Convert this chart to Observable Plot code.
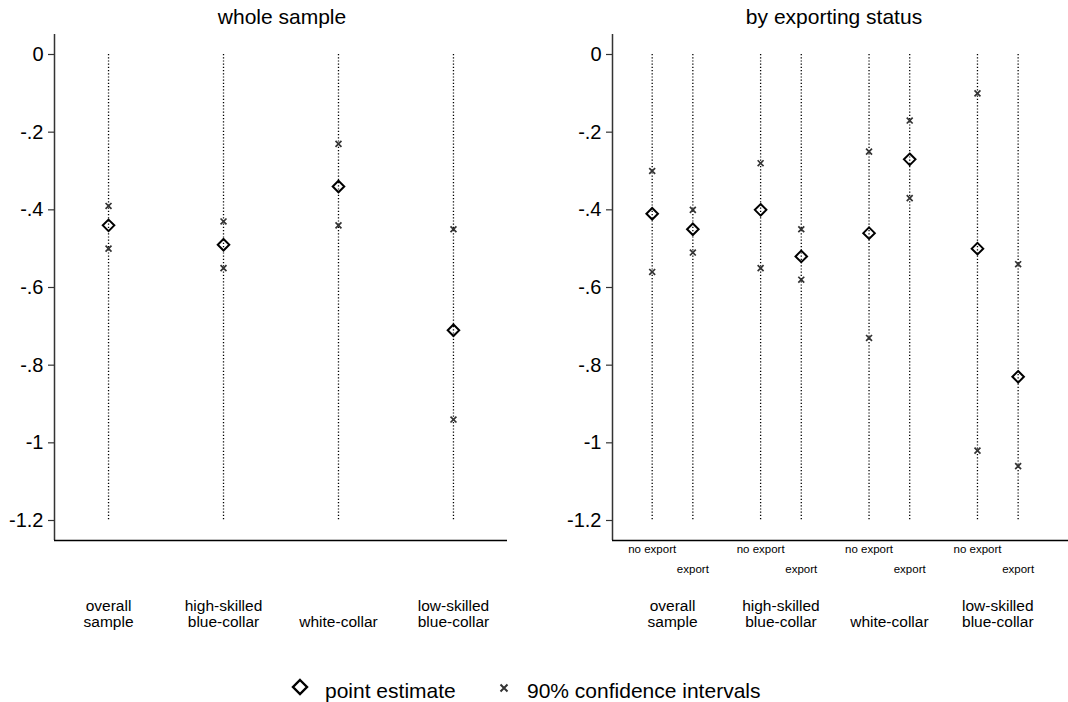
<!DOCTYPE html>
<html>
<head>
<meta charset="utf-8">
<script src="https://cdn.jsdelivr.net/npm/d3@7"></script>
<script src="https://cdn.jsdelivr.net/npm/@observablehq/plot@0.6"></script>
<style>
  html, body { margin: 0; padding: 0; background: #fff; }
  #wrap { position: relative; width: 1068px; height: 702px; background: #fff; overflow: hidden;
          font-family: 'Liberation Sans', Arial, Helvetica, sans-serif; color: #000; }
  .panel { position: absolute; top: 0; }
  .title { position: absolute; top: 6px; font-size: 21px; line-height: 21px; white-space: nowrap; transform: translateX(-50%); }
  .leg { position: absolute; top: 680px; font-size: 21px; line-height: 21px; white-space: nowrap; }
  .legsym { position: absolute; }
</style>
</head>
<body>
<div id="wrap">
  <div class="panel" id="left" style="left:0px"></div>
  <div class="panel" id="right" style="left:530px"></div>
  <div class="title" style="left:282px">whole sample</div>
  <div class="title" style="left:834px">by exporting status</div>
  <svg class="legsym" style="left:290px;top:677px" width="20" height="20"><path d="M10,3L17,10L10,17L3,10Z" fill="none" stroke="#000" stroke-width="2.4"/></svg>
  <div class="leg" style="left:325px">point estimate</div>
  <svg class="legsym" style="left:497px;top:681px" width="14" height="14"><path d="M3.5,3.5L10.5,10.5M10.5,3.5L3.5,10.5" stroke="#333" stroke-width="2"/></svg>
  <div class="leg" style="left:527px">90% confidence intervals</div>
</div>
<script>
// ---- data ----
const groups = ["overall\nsample", "high-skilled\nblue-collar", "white-collar", "low-skilled\nblue-collar"];
const statuses = ["no export", "export"];

// whole sample
const wholeEst = [-0.44, -0.49, -0.34, -0.71];
const wholeHi  = [-0.39, -0.43, -0.23, -0.45];
const wholeLo  = [-0.50, -0.55, -0.44, -0.94];

// by exporting status: non-exporters
const noExpEst = [-0.41, -0.40, -0.46, -0.50];
const noExpHi  = [-0.30, -0.28, -0.25, -0.10];
const noExpLo  = [-0.56, -0.55, -0.73, -1.02];

// by exporting status: exporters
const expEst = [-0.45, -0.52, -0.27, -0.83];
const expHi  = [-0.40, -0.45, -0.17, -0.54];
const expLo  = [-0.51, -0.58, -0.37, -1.06];

const yTicks = [0, -0.2, -0.4, -0.6, -0.8, -1, -1.2];

// ---- chart ----
const FONT = "'Liberation Sans', Arial, Helvetica, sans-serif";
const yDomain = [-1.2515, 0.0515];
const lineTop = 0, lineBottom = -1.2;
const fmt = d => d3.format("~g")(d).replace("\u2212", "-").replace(/^(-?)0\./, "$1.");

function yAxisMark() {
  return Plot.axisY({ticks: yTicks, tickFormat: fmt, tickSize: 6, tickPadding: 5, fontSize: 20, stroke: "#333", strokeWidth: 1.2});
}
const ruleStyle = {stroke: "#000", strokeWidth: 1.3, strokeDasharray: "1.2,2"};
const ciStyle = {symbol: "times", r: 2.8, stroke: "#333", strokeWidth: 1.7};
const estStyle = {symbol: "diamond2", r: 5.2, fill: "none", stroke: "#000", strokeWidth: 2};
const groupLabelStyle = {frameAnchor: "bottom", lineAnchor: "bottom", dy: 86, fontSize: 15.5, lineHeight: 1.02, fill: "#000"};

const wholeTable = groups.map((g, i) => ({g, i, est: wholeEst[i], hi: wholeHi[i], lo: wholeLo[i]}));

const leftXDomain = [-0.47, 3.47];
const left = Plot.plot({
  width: 530, height: 640,
  marginLeft: 54, marginRight: 23, marginTop: 34, marginBottom: 100,
  style: {fontFamily: FONT, color: "#000", background: "transparent", overflow: "visible"},
  x: {type: "linear", domain: leftXDomain, axis: null},
  y: {domain: yDomain, axis: null},
  marks: [
    Plot.ruleX(wholeTable, {x: "i", y1: lineTop, y2: lineBottom, ...ruleStyle}),
    Plot.dot(wholeTable, {x: "i", y: "hi", ...ciStyle}),
    Plot.dot(wholeTable, {x: "i", y: "lo", ...ciStyle}),
    Plot.dot(wholeTable, {x: "i", y: "est", ...estStyle}),
    Plot.text(wholeTable, {x: "i", text: "g", ...groupLabelStyle}),
    yAxisMark(),
    Plot.ruleX([leftXDomain[0]], {stroke: "#333", strokeWidth: 1.5}),
    Plot.ruleY([yDomain[0]], {stroke: "#000", strokeWidth: 1.5})
  ]
});
document.getElementById("left").appendChild(left);

const subOffset = 0.1875;
const exportTable = [];
groups.forEach((g, i) => {
  exportTable.push({g, i, status: statuses[0], pos: i - subOffset, est: noExpEst[i], hi: noExpHi[i], lo: noExpLo[i]});
  exportTable.push({g, i, status: statuses[1], pos: i + subOffset, est: expEst[i], hi: expHi[i], lo: expLo[i]});
});

const rightXDomain = [-0.5535, 3.652];
const right = Plot.plot({
  width: 538, height: 640,
  marginLeft: 82, marginRight: 0, marginTop: 34, marginBottom: 100,
  style: {fontFamily: FONT, color: "#000", background: "transparent", overflow: "visible"},
  x: {type: "linear", domain: rightXDomain, axis: null},
  y: {domain: yDomain, axis: null},
  marks: [
    Plot.ruleX(exportTable, {x: "pos", y1: lineTop, y2: lineBottom, ...ruleStyle}),
    Plot.dot(exportTable, {x: "pos", y: "hi", ...ciStyle}),
    Plot.dot(exportTable, {x: "pos", y: "lo", ...ciStyle}),
    Plot.dot(exportTable, {x: "pos", y: "est", ...estStyle}),
    Plot.text(exportTable.filter(d => d.status === statuses[0]), {x: "pos", text: "status", frameAnchor: "bottom", dy: 12, fontSize: 11.5, fill: "#000"}),
    Plot.text(exportTable.filter(d => d.status === statuses[1]), {x: "pos", text: "status", frameAnchor: "bottom", dy: 32, fontSize: 11.5, fill: "#000"}),
    Plot.text(wholeTable, {x: "i", text: "g", ...groupLabelStyle}),
    yAxisMark(),
    Plot.ruleX([rightXDomain[0]], {stroke: "#333", strokeWidth: 1.5}),
    Plot.ruleY([yDomain[0]], {stroke: "#000", strokeWidth: 1.5})
  ]
});
document.getElementById("right").appendChild(right);
</script>
</body>
</html>
